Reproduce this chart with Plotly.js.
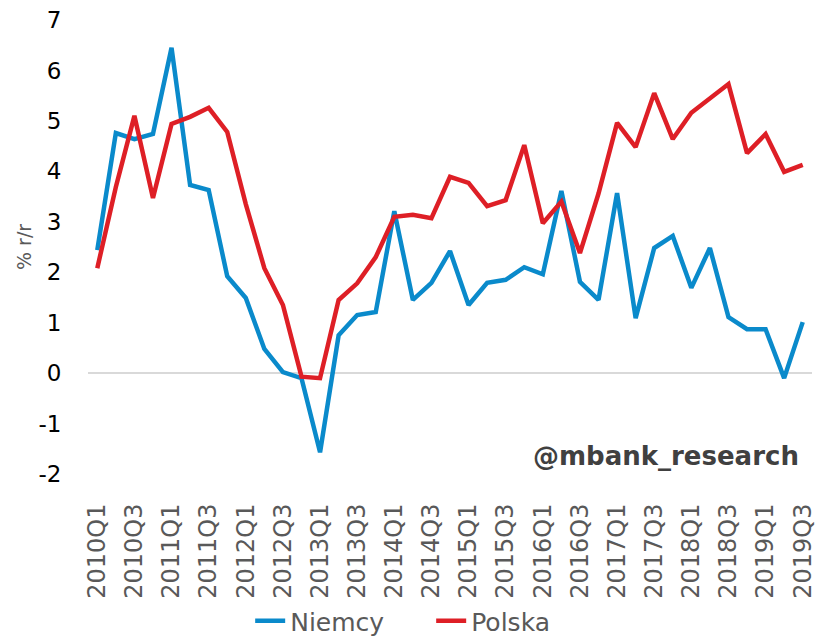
<!DOCTYPE html>
<html>
<head>
<meta charset="utf-8">
<script src="https://cdn.plot.ly/plotly-3.0.1.min.js"></script>
<style>html,body{margin:0;padding:0;background:#fff;}#chart{width:817px;height:637px;}</style>
</head>
<body>
<div id="chart"></div>
<script>
const quarters = [
  "2010Q1","2010Q2","2010Q3","2010Q4","2011Q1","2011Q2","2011Q3","2011Q4",
  "2012Q1","2012Q2","2012Q3","2012Q4","2013Q1","2013Q2","2013Q3","2013Q4",
  "2014Q1","2014Q2","2014Q3","2014Q4","2015Q1","2015Q2","2015Q3","2015Q4",
  "2016Q1","2016Q2","2016Q3","2016Q4","2017Q1","2017Q2","2017Q3","2017Q4",
  "2018Q1","2018Q2","2018Q3","2018Q4","2019Q1","2019Q2","2019Q3"
];
const niemcy = [
  2.44, 4.76, 4.64, 4.74, 6.45, 3.73, 3.63, 1.92,
  1.49, 0.48, 0.02, -0.10, -1.57, 0.75, 1.15, 1.21,
  3.21, 1.45, 1.79, 2.42, 1.35, 1.79, 1.85, 2.10,
  1.96, 3.61, 1.81, 1.45, 3.57, 1.09, 2.48, 2.72,
  1.69, 2.48, 1.11, 0.87, 0.87, -0.10, 1.01
];
const polska = [
  2.08, 3.69, 5.10, 3.47, 4.94, 5.08, 5.26, 4.78,
  3.35, 2.08, 1.35, -0.07, -0.10, 1.45, 1.78, 2.30,
  3.10, 3.14, 3.07, 3.89, 3.77, 3.31, 3.43, 4.52,
  2.97, 3.40, 2.38, 3.56, 4.96, 4.48, 5.55, 4.64,
  5.16, 5.45, 5.73, 4.36, 4.74, 3.99, 4.13
];
const yTicks = [-2, -1, 0, 1, 2, 3, 4, 5, 6, 7];
const yTickText = ["-2", "-1", "0", "1", "2", "3", "4", "5", "6", "7"];
const xTickLabels = quarters.filter((q, i) => i % 2 === 0);

const FONT = "DejaVu Sans, Verdana, sans-serif";

const traces = [
  {x: quarters, y: niemcy, name: "Niemcy", type: "scatter", mode: "lines",
   line: {color: "#0a8acb", width: 4.5}},
  {x: quarters, y: polska, name: "Polska", type: "scatter", mode: "lines",
   line: {color: "#de1f26", width: 4.5}}
];

const layout = {
  width: 817, height: 637,
  margin: {l: 88, r: 5, t: 20, b: 163, autoexpand: false},
  paper_bgcolor: "#fff", plot_bgcolor: "#fff",
  font: {family: FONT},
  showlegend: true,
  legend: {orientation: "h", x: 0.224, xanchor: "left", y: -0.3238, yanchor: "middle",
           font: {family: FONT, size: 25, color: "#595959"},
           entrywidth: 136, entrywidthmode: "pixels"},
  xaxis: {
    type: "category", range: [-0.5, 38.5],
    tickmode: "array", tickvals: xTickLabels, ticktext: xTickLabels,
    tickangle: -90, tickfont: {family: FONT, size: 24, color: "#595959"},
    ticks: "outside", ticklen: 19, tickcolor: "rgba(0,0,0,0)",
    showgrid: false, zeroline: false, showline: false, automargin: false
  },
  yaxis: {
    range: [-2, 7], tickmode: "array", tickvals: yTicks, ticktext: yTickText,
    tickfont: {family: FONT, size: 23, color: "#000"},
    ticks: "outside", ticklen: 21, tickcolor: "rgba(0,0,0,0)",
    showgrid: false, showline: false,
    zeroline: true, zerolinecolor: "#d9d9d9", zerolinewidth: 1.5,
    automargin: false
  },
  annotations: [
    {text: "<b>@mbank_research</b>", xref: "paper", yref: "paper",
     x: 0.985, y: 0.04, xanchor: "right", yanchor: "middle", showarrow: false,
     font: {family: FONT, size: 26, color: "#404040"}},
    {text: "% r/r", xref: "paper", yref: "paper", textangle: -90,
     x: -0.0884, y: 0.5, xanchor: "center", yanchor: "middle", showarrow: false,
     font: {family: FONT, size: 19, color: "#595959"}}
  ]
};

Plotly.newPlot("chart", traces, layout, {displayModeBar: false, staticPlot: true});
</script>
</body>
</html>
